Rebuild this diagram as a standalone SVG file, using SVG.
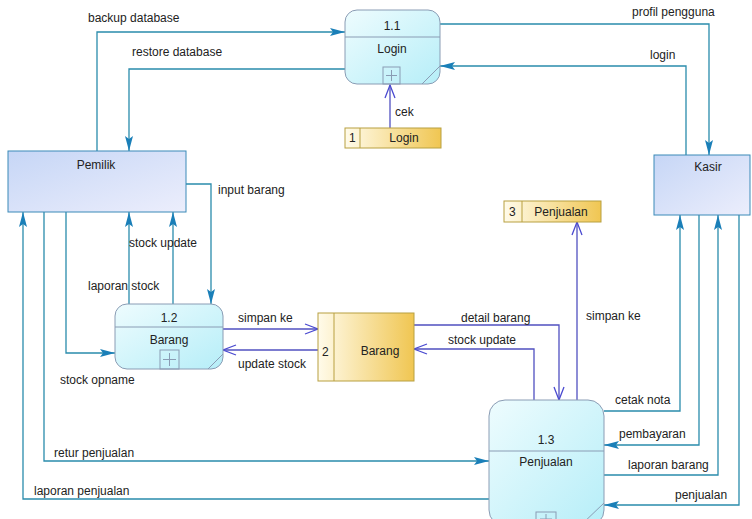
<svg xmlns="http://www.w3.org/2000/svg" width="752" height="519" viewBox="0 0 752 519">
<defs>
<linearGradient id="gProc" x1="0" y1="0" x2="1" y2="1">
<stop offset="0" stop-color="#eefcfe"/><stop offset="1" stop-color="#b6eef8"/>
</linearGradient>
<linearGradient id="gEnt" x1="0" y1="0" x2="1" y2="1">
<stop offset="0" stop-color="#c6d6f6"/><stop offset="1" stop-color="#eceefc"/>
</linearGradient>
<linearGradient id="gStore" x1="0" y1="0" x2="1" y2="0">
<stop offset="0" stop-color="#fffbea"/><stop offset="1" stop-color="#f0c652"/>
</linearGradient>
<marker id="fa" markerUnits="userSpaceOnUse" markerWidth="16" markerHeight="10" refX="15" refY="4.5" orient="auto">
<path d="M0,0.5 L15,4.5 L0,8.5 L3,4.5 z" fill="#1a7fb8"/>
</marker>
<marker id="oa" markerUnits="userSpaceOnUse" markerWidth="16" markerHeight="12" refX="14" refY="6" orient="auto">
<path d="M1,1 L14,6 L1,11" fill="none" stroke="#4a4ad0" stroke-width="1.3"/>
</marker>
<style>
.proc{fill:url(#gProc);stroke:#8a9cb4;stroke-width:1}
.pl{stroke:#8a9cb4;stroke-width:1;fill:none}
.ent{fill:url(#gEnt);stroke:#3a8ab8;stroke-width:1}
.store{fill:url(#gStore);stroke:#b8a040;stroke-width:1}
.c{fill:none;stroke:#2a8cac;stroke-width:1.3}
.cf{fill:none;stroke:#2a8cac;stroke-width:1.3;marker-end:url(#fa)}
.co{fill:none;stroke:#5050c0;stroke-width:1.3;marker-end:url(#oa)}
text{font-family:"Liberation Sans",Arial,sans-serif;font-size:12px;fill:#222}
.m{text-anchor:middle}
</style>
</defs>
<g id="connectors">
<path class="cf" d="M97,151 V32 H345"/>
<path class="cf" d="M345,69 H129 V151"/>
<path class="cf" d="M440,24 H709 V155"/>
<path class="cf" d="M686,155 V66 H440"/>
<path class="co" d="M390,128 V85"/>
<path class="cf" d="M186,184 H211 V304"/>
<path class="cf" d="M173,304 V212"/>
<path class="cf" d="M129,304 V212"/>
<path class="cf" d="M66,212 V353 H115"/>
<path class="cf" d="M489,499 H23 V212"/>
<path class="cf" d="M44,212 V461 H489"/>
<path class="co" d="M223,329 H318"/>
<path class="co" d="M318,350 H223"/>
<path class="co" d="M414,325 H559 V400"/>
<path class="co" d="M534,400 V349 H414"/>
<path class="co" d="M577,400 V222"/>
<path class="cf" d="M604,411 H680 V215"/>
<path class="cf" d="M699,215 V445 H604"/>
<path class="cf" d="M604,475 H718 V215"/>
<path class="cf" d="M739,215 V505 H604"/>
</g>
<g id="labels">
<text x="88" y="22">backup database</text>
<text x="132" y="56">restore database</text>
<text x="632" y="16">profil pengguna</text>
<text x="650" y="59">login</text>
<text x="395" y="116">cek</text>
<text x="218" y="194">input barang</text>
<text x="129" y="247">stock update</text>
<text x="88" y="290">laporan stock</text>
<text x="238" y="322">simpan ke</text>
<text x="238" y="368">update stock</text>
<text x="60" y="384">stock opname</text>
<text x="461" y="322">detail barang</text>
<text x="448" y="344">stock update</text>
<text x="586" y="320">simpan ke</text>
<text x="615" y="404">cetak nota</text>
<text x="619" y="438">pembayaran</text>
<text x="628" y="469">laporan barang</text>
<text x="675" y="499">penjualan</text>
<text x="54" y="457">retur penjualan</text>
<text x="34" y="495">laporan penjualan</text>
</g>
<g id="p11">
<rect class="proc" x="345" y="10" width="95" height="74" rx="12"/>
<line class="pl" x1="345" y1="37" x2="440" y2="37"/>
<rect class="pl" x="383" y="67" width="17" height="17"/>
<path class="pl" d="M386,75.5 H397 M391.5,70 V81"/>
<line class="pl" x1="422" y1="84" x2="440" y2="66"/>
<text class="m" x="392" y="30">1.1</text>
<text class="m" x="392" y="53">Login</text>
</g>
<g id="p12">
<rect class="proc" x="115" y="304" width="108" height="65" rx="12"/>
<line class="pl" x1="115" y1="327" x2="223" y2="327"/>
<rect class="pl" x="160" y="350" width="19" height="19"/>
<path class="pl" d="M163,359.5 H176 M169.5,353 V366"/>
<line class="pl" x1="208" y1="369" x2="223" y2="354"/>
<text class="m" x="169" y="322">1.2</text>
<text class="m" x="169" y="344">Barang</text>
</g>
<g id="p13">
<rect class="proc" x="489" y="400" width="115" height="126" rx="16"/>
<line class="pl" x1="489" y1="451" x2="604" y2="451"/>
<rect class="pl" x="536" y="512" width="20" height="14"/>
<path class="pl" d="M540,519 H552 M546,514 V525"/>
<line class="pl" x1="580" y1="526" x2="604" y2="503"/>
<text class="m" x="546" y="444">1.3</text>
<text class="m" x="546" y="466">Penjualan</text>
</g>
<g id="pemilik">
<rect class="ent" x="8" y="151" width="178" height="61"/>
<text class="m" x="96" y="169">Pemilik</text>
</g>
<g id="kasir">
<rect class="ent" x="654" y="155" width="96" height="60"/>
<text class="m" x="708" y="171">Kasir</text>
</g>
<g id="ds1">
<rect class="store" x="345" y="128" width="96" height="20"/>
<line class="store" x1="360" y1="128" x2="360" y2="148"/>
<text x="349" y="142">1</text>
<text class="m" x="404" y="142">Login</text>
</g>
<g id="ds2">
<rect class="store" x="318" y="313" width="96" height="68"/>
<line class="store" x1="334" y1="313" x2="334" y2="381"/>
<text x="322" y="356">2</text>
<text class="m" x="380" y="355">Barang</text>
</g>
<g id="ds3">
<rect class="store" x="504" y="201" width="97" height="21"/>
<line class="store" x1="522" y1="201" x2="522" y2="222"/>
<text x="509" y="216">3</text>
<text class="m" x="561" y="216">Penjualan</text>
</g>
</svg>
